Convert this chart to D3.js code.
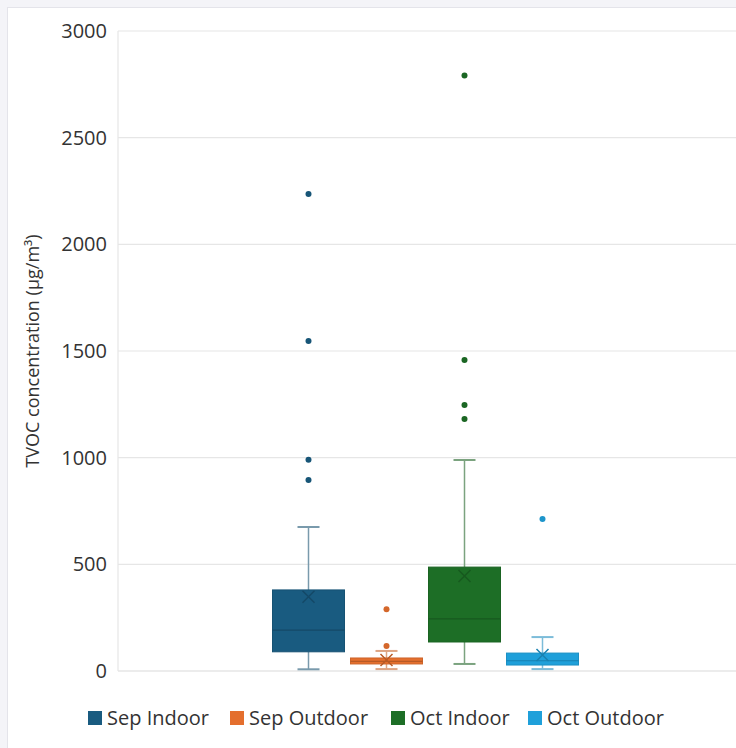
<!DOCTYPE html>
<html>
<head>
    <meta charset="UTF-8">
    <title>TVOC box plot</title>
    <script src="https://cdnjs.cloudflare.com/ajax/libs/d3/7.8.5/d3.min.js"></script>
    <style>
        body { margin: 0; background: #f4f4f8; }
        #panel {
            position: absolute; left: 7px; top: 7px; width: 740px; height: 750px;
            background: #fff; border: 1px solid #e4e4ea;
        }
        svg { position: absolute; left: 0; top: 0; }
        text { font-family: "Open Sans", "Noto Sans", sans-serif; fill: #333; }
    </style>
</head>
<body>
    <div id="panel"></div>
    <svg id="chart" width="736" height="748"></svg>

    <script>
        // data
        const series = ['Sep Indoor', 'Sep Outdoor', 'Oct Indoor', 'Oct Outdoor'];
        const colors = ['#195b80', '#e46f2e', '#1d6e26', '#1fa0da'];
        const whiskerLow  = [8, 9, 33, 9];
        const q1          = [90, 33, 136, 28];
        const median      = [192, 45, 244, 48];
        const q3          = [380, 61, 487, 84];
        const whiskerHigh = [675, 94, 989, 159];
        const mean        = [348, 52, 445, 75];
        const outliers    = [
            [895, 990, 1547, 2236],
            [117, 290],
            [1181, 1247, 1458, 2791],
            [712]
        ];
        const yTicks = [0, 500, 1000, 1500, 2000, 2500, 3000];

        const svg = d3.select('#chart');
        const plotLeft = 118, plotTop = 31, plotBottom = 671, plotRight = 766;

        const y = d3.scaleLinear().domain([0, 3000]).range([plotBottom, plotTop]);
        // single category, the four series sit side by side in the middle
        const x = d3.scaleBand().domain(series).range([269.5, 581.5])
            .paddingInner(0.077).paddingOuter(0.0385);

        // grid
        svg.append('g').selectAll('line').data(yTicks).enter().append('line')
            .attr('x1', plotLeft).attr('x2', plotRight)
            .attr('y1', d => y(d)).attr('y2', d => y(d))
            .attr('stroke', d => d === 0 ? '#d9d9d9' : '#e6e6e6').attr('stroke-width', 1.2);
        svg.append('line').attr('x1', plotLeft).attr('x2', plotLeft).attr('y1', plotTop).attr('y2', plotBottom)
            .attr('stroke', '#e6e6e6').attr('stroke-width', 1.2);

        // y axis labels
        const yAxis = svg.append('g')
            .attr('transform', `translate(${plotLeft - 11},0)`)
            .call(d3.axisLeft(y).tickValues(yTicks).tickFormat(d3.format('d')).tickSize(0).tickPadding(0));
        yAxis.select('.domain').remove();
        yAxis.selectAll('text').style('font-size', '20px')
            .style('font-family', '"Open Sans", sans-serif').attr('fill', '#333');

        svg.append('text')
            .attr('transform', `translate(33,351) rotate(-90)`)
            .attr('text-anchor', 'middle')
            .attr('dy', '0.35em')
            .style('font-size', '18px')
            .text('TVOC concentration (µg/m³)');

        const data = series.map((s, i) => ({
            name: s, color: colors[i], lo: whiskerLow[i], q1: q1[i], med: median[i],
            q3: q3[i], hi: whiskerHigh[i], mean: mean[i], out: outliers[i]
        }));

        const g = svg.append('g').selectAll('g').data(data).enter().append('g');
        const cx = d => x(d.name) + x.bandwidth() / 2;
        const light = c => d3.interpolateRgb(c, '#d8d8d8')(0.5);
        const dark = c => d3.color(c).darker(0.6);

        // whiskers
        g.append('line').attr('x1', cx).attr('x2', cx)
            .attr('y1', d => y(d.hi)).attr('y2', d => y(d.q3))
            .attr('stroke', d => light(d.color)).attr('stroke-width', 1.5);
        g.append('line').attr('x1', cx).attr('x2', cx)
            .attr('y1', d => y(d.lo)).attr('y2', d => y(d.q1))
            .attr('stroke', d => light(d.color)).attr('stroke-width', 1.5);
        ['hi', 'lo'].forEach(k => {
            g.append('line').attr('x1', d => cx(d) - 11).attr('x2', d => cx(d) + 11)
                .attr('y1', d => y(d[k])).attr('y2', d => y(d[k]))
                .attr('stroke', d => light(d.color)).attr('stroke-width', 2);
        });

        // boxes
        g.append('rect')
            .attr('x', d => x(d.name)).attr('width', x.bandwidth())
            .attr('y', d => y(d.q3)).attr('height', d => y(d.q1) - y(d.q3))
            .attr('fill', d => d.color)
            .attr('stroke', d => d3.color(d.color).darker(0.3)).attr('stroke-width', 1);
        g.append('line')
            .attr('x1', d => x(d.name)).attr('x2', d => x(d.name) + x.bandwidth())
            .attr('y1', d => y(d.med)).attr('y2', d => y(d.med))
            .attr('stroke', d => dark(d.color)).attr('stroke-width', 1.2);

        // mean markers
        g.append('path')
            .attr('d', d => {
                const px = cx(d), py = y(d.mean), s = 6;
                return `M${px - s},${py - s}L${px + s},${py + s}M${px - s},${py + s}L${px + s},${py - s}`;
            })
            .attr('stroke', d => dark(d.color)).attr('stroke-width', 1.5).attr('fill', 'none');

        // outliers
        g.selectAll('circle').data(d => d.out.map(v => ({ v, d }))).enter().append('circle')
            .attr('cx', o => cx(o.d)).attr('cy', o => y(o.v)).attr('r', 3)
            .attr('fill', o => d3.color(o.d.color).darker(0.2));

        // legend
        const legendX = [88, 230, 391, 528];
        const lg = svg.append('g').selectAll('g').data(data).enter().append('g')
            .attr('transform', (d, i) => `translate(${legendX[i]},718)`);
        lg.append('rect').attr('x', 0).attr('y', -7).attr('width', 14).attr('height', 14)
            .attr('fill', d => d.color);
        lg.append('text').attr('x', 19).attr('y', 0).attr('dy', '0.35em')
            .style('font-size', '20px').text(d => d.name);
    </script>
</body>
</html>
